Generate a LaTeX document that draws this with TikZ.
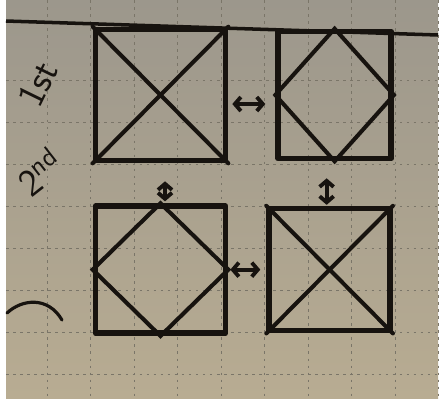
\documentclass[tikz,border=0pt]{standalone}
\usepackage{tikz}
\usetikzlibrary{arrows.meta,positioning}
\definecolor{ink}{HTML}{17130F}
\definecolor{paperTop}{HTML}{9C978C}
\definecolor{paperBot}{HTML}{B8AC92}
\definecolor{gridc}{HTML}{7A7568}

\begin{document}
\begin{tikzpicture}[
        x=0.2mm, y=-0.2mm,
        node distance=8mm and 9.4mm,
        sq/.style={draw=ink, line width=3.2pt, line join=round, inner sep=0pt},
        diag/.style={draw=ink, line width=2.3pt, line cap=round},
        dbl/.style={{Straight Barb[length=1.2mm,width=2.8mm]}-{Straight Barb[length=1.2mm,width=2.8mm]}, line width=2.2pt, draw=ink},
        hand/.style={text=ink, font=\sffamily\fontsize{22}{22}\selectfont},
        gridline/.style={draw=gridc, line width=0.4pt, dash pattern=on 1.5pt off 2.5pt},
    ]
        % paper and graph grid
        \useasboundingbox (0,0) rectangle (444,404);
        \fill[white] (0,0) rectangle (444,404);
        \shade[top color=paperTop, bottom color=paperBot] (6,0) rectangle (438,398);
        \foreach \gx in {47,90.5,134,177.5,221,264.5,308,351.5,395,438}
            \draw[gridline] (\gx,0) -- (\gx,398);
        \foreach \gy in {80,122,164,206,248,290,332,374}
            \draw[gridline] (6,\gy) -- (438,\gy);
        \draw[draw=ink, line width=2pt] (6,21) -- (438,35);

        % the four squares
        \node[sq, minimum width=26mm, minimum height=26.2mm] at (160.5,95) (tl) {};
        \node[sq, minimum width=22.6mm, minimum height=25.4mm, right=of tl] (tr) {};
        \node[sq, minimum width=26mm, minimum height=25.4mm, below=of tl] (bl) {};
        \node[sq, minimum width=24.2mm, minimum height=24.4mm, right=7.6mm of bl] (br) {};

        \draw[diag] (tl.north west) -- (tl.south east);
        \draw[diag] (tl.north east) -- (tl.south west);
        \draw[diag] (tr.north) -- (tr.east) -- (tr.south) -- (tr.west) -- cycle;
        \draw[diag] (bl.north) -- (bl.east) -- (bl.south) -- (bl.west) -- cycle;
        \draw[diag] (br.north west) -- (br.south east);
        \draw[diag] (br.north east) -- (br.south west);

        % swaps
        \draw[dbl, shorten <=0.8mm, shorten >=2mm] ([yshift=-1.8mm]tl.east) -- ([yshift=-1.8mm]tl.east -| tr.west);
        \draw[dbl, shorten <=0.4mm, shorten >=1.2mm] (bl.east) -- (bl.east -| br.west);
        \draw[dbl, shorten <=3.6mm, shorten >=0.4mm] ([xshift=0.9mm]tl.south) -- ([xshift=0.9mm]tl.south |- bl.north);
        \draw[dbl, shorten <=3.4mm, shorten >=0.2mm] ([xshift=-1.6mm]tr.south) -- ([xshift=-1.6mm]tr.south |- br.north);

        % labels
        \node[hand, rotate=64] at (38,84) (first) {1st};
        \node[hand, rotate=38] at (40,172) (second) {2\textsuperscript{nd}};
        \draw[draw=ink, line width=1.8pt, line cap=round] (7,313) .. controls (22,299) and (48,296) .. (62,320);
    \end{tikzpicture}
\end{document}
